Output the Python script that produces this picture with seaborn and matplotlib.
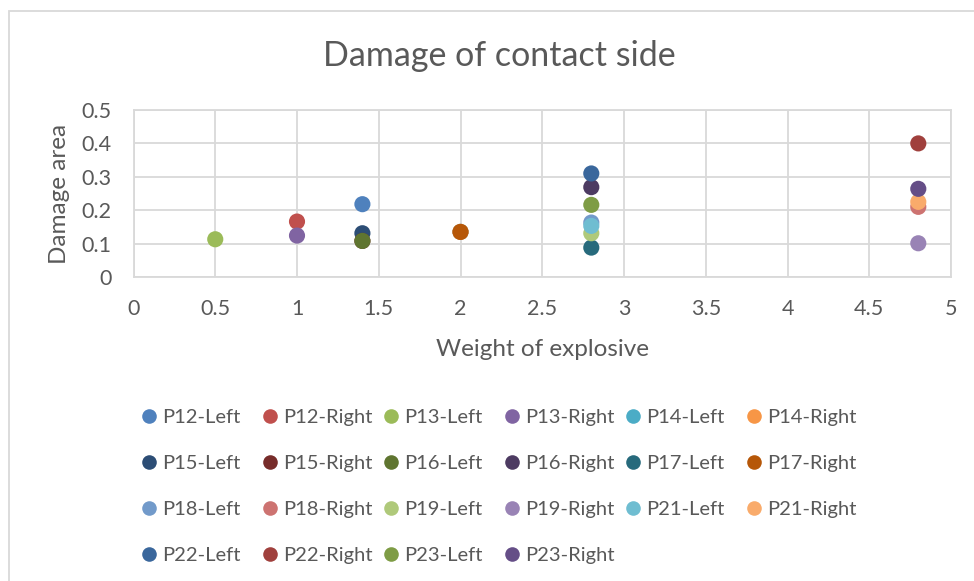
import matplotlib
matplotlib.use("Agg")
import matplotlib.pyplot as plt
import seaborn as sns
import pandas as pd
from matplotlib.patches import Rectangle
from matplotlib.lines import Line2D

series = ["P12-Left", "P12-Right", "P13-Left", "P13-Right", "P14-Left", "P14-Right",
          "P15-Left", "P15-Right", "P16-Left", "P16-Right", "P17-Left", "P17-Right",
          "P18-Left", "P18-Right", "P19-Left", "P19-Right", "P21-Left", "P21-Right",
          "P22-Left", "P22-Right", "P23-Left", "P23-Right"]
weight = [1.4, 1.0, 0.5, 1.0, 2.0, 2.0,
          1.4, 1.4, 1.4, 2.8, 2.8, 2.0,
          2.8, 4.8, 2.8, 4.8, 2.8, 4.8,
          2.8, 4.8, 2.8, 4.8]
damage = [0.218, 0.166, 0.113, 0.124, 0.135, 0.135,
          0.131, 0.108, 0.108, 0.269, 0.088, 0.135,
          0.163, 0.210, 0.131, 0.101, 0.153, 0.225,
          0.310, 0.400, 0.216, 0.264]
colors = ["#4F81BD", "#C0504D", "#9BBB59", "#8064A2", "#4BACC6", "#F79646",
          "#2C4D75", "#772C2A", "#5F7530", "#4D3B62", "#276A7C", "#B65708",
          "#729ACA", "#CD7371", "#AFC97A", "#9983B5", "#6FBDD1", "#F9AB6B",
          "#3A679C", "#A0403D", "#7E9C45", "#654E87"]
x_ticks = [0, 0.5, 1, 1.5, 2, 2.5, 3, 3.5, 4, 4.5, 5]
x_labels = ["0", "0.5", "1", "1.5", "2", "2.5", "3", "3.5", "4", "4.5", "5"]
y_ticks = [0, 0.1, 0.2, 0.3, 0.4, 0.5]
y_labels = ["0", "0.1", "0.2", "0.3", "0.4", "0.5"]

sns.set_style("white")
plt.rcParams['font.family'] = ['Lato', 'DejaVu Sans']
txt = "#595959"
grid = "#D9D9D9"

df = pd.DataFrame({"series": series, "weight": weight, "damage": damage})

fig = plt.figure(figsize=(9.74, 5.81), dpi=100)
ax = fig.add_axes([133.5 / 974, 1 - 277 / 581, (951 - 133.5) / 974, (277 - 110) / 581])

sns.scatterplot(data=df, x="weight", y="damage", hue="series", hue_order=series,
                palette=dict(zip(series, colors)), s=135, linewidth=0, ax=ax,
                legend=False, zorder=3, clip_on=False)

ax.set_xlim(0, 5)
ax.set_ylim(0, 0.5)
ax.set_xticks(x_ticks)
ax.set_xticklabels(x_labels)
ax.set_yticks(y_ticks)
ax.set_yticklabels(y_labels)
ax.grid(True, color=grid, linewidth=1.3)
ax.set_axisbelow(True)
for sp in ax.spines.values():
    sp.set_color(grid)
    sp.set_linewidth(1.3)
ax.tick_params(axis='both', length=0, labelsize=15.5, labelcolor=txt)
ax.tick_params(axis='x', pad=16)
ax.tick_params(axis='y', pad=16)
ax.set_xlabel("Weight of explosive", fontsize=17.5, color=txt, labelpad=14)
ax.set_ylabel("Damage area", fontsize=17.5, color=txt, labelpad=8)

fig.text(499 / 974, 1 - 56 / 581, "Damage of contact side", fontsize=24.5, color=txt,
         ha="center", va="center")

# legend: 6 columns, row-wise order as in reference
ncol = 6
col_x = [142, 263, 384, 505, 626, 747]
for c in range(ncol):
    idx = [r * ncol + c for r in range(4) if r * ncol + c < len(series)]
    handles = [Line2D([], [], marker="o", linestyle="", markersize=10.5,
                      markerfacecolor=colors[i], markeredgewidth=0) for i in idx]
    labels = [series[i] for i in idx]
    leg = fig.legend(handles, labels, loc="upper left",
                     bbox_to_anchor=(col_x[c] / 974, 1 - 409 / 581),
                     frameon=False, fontsize=14.5, labelcolor=txt,
                     handlelength=0.7, handletextpad=0.3, labelspacing=1.43,
                     borderpad=0, borderaxespad=0)

fig.add_artist(Rectangle((8.5 / 974, -0.1), 2, 1 - 10.5 / 581 + 0.1,
                         transform=fig.transFigure, fill=False,
                         edgecolor=grid, linewidth=1.3))

fig.savefig("out.png", dpi=100, facecolor="white")
